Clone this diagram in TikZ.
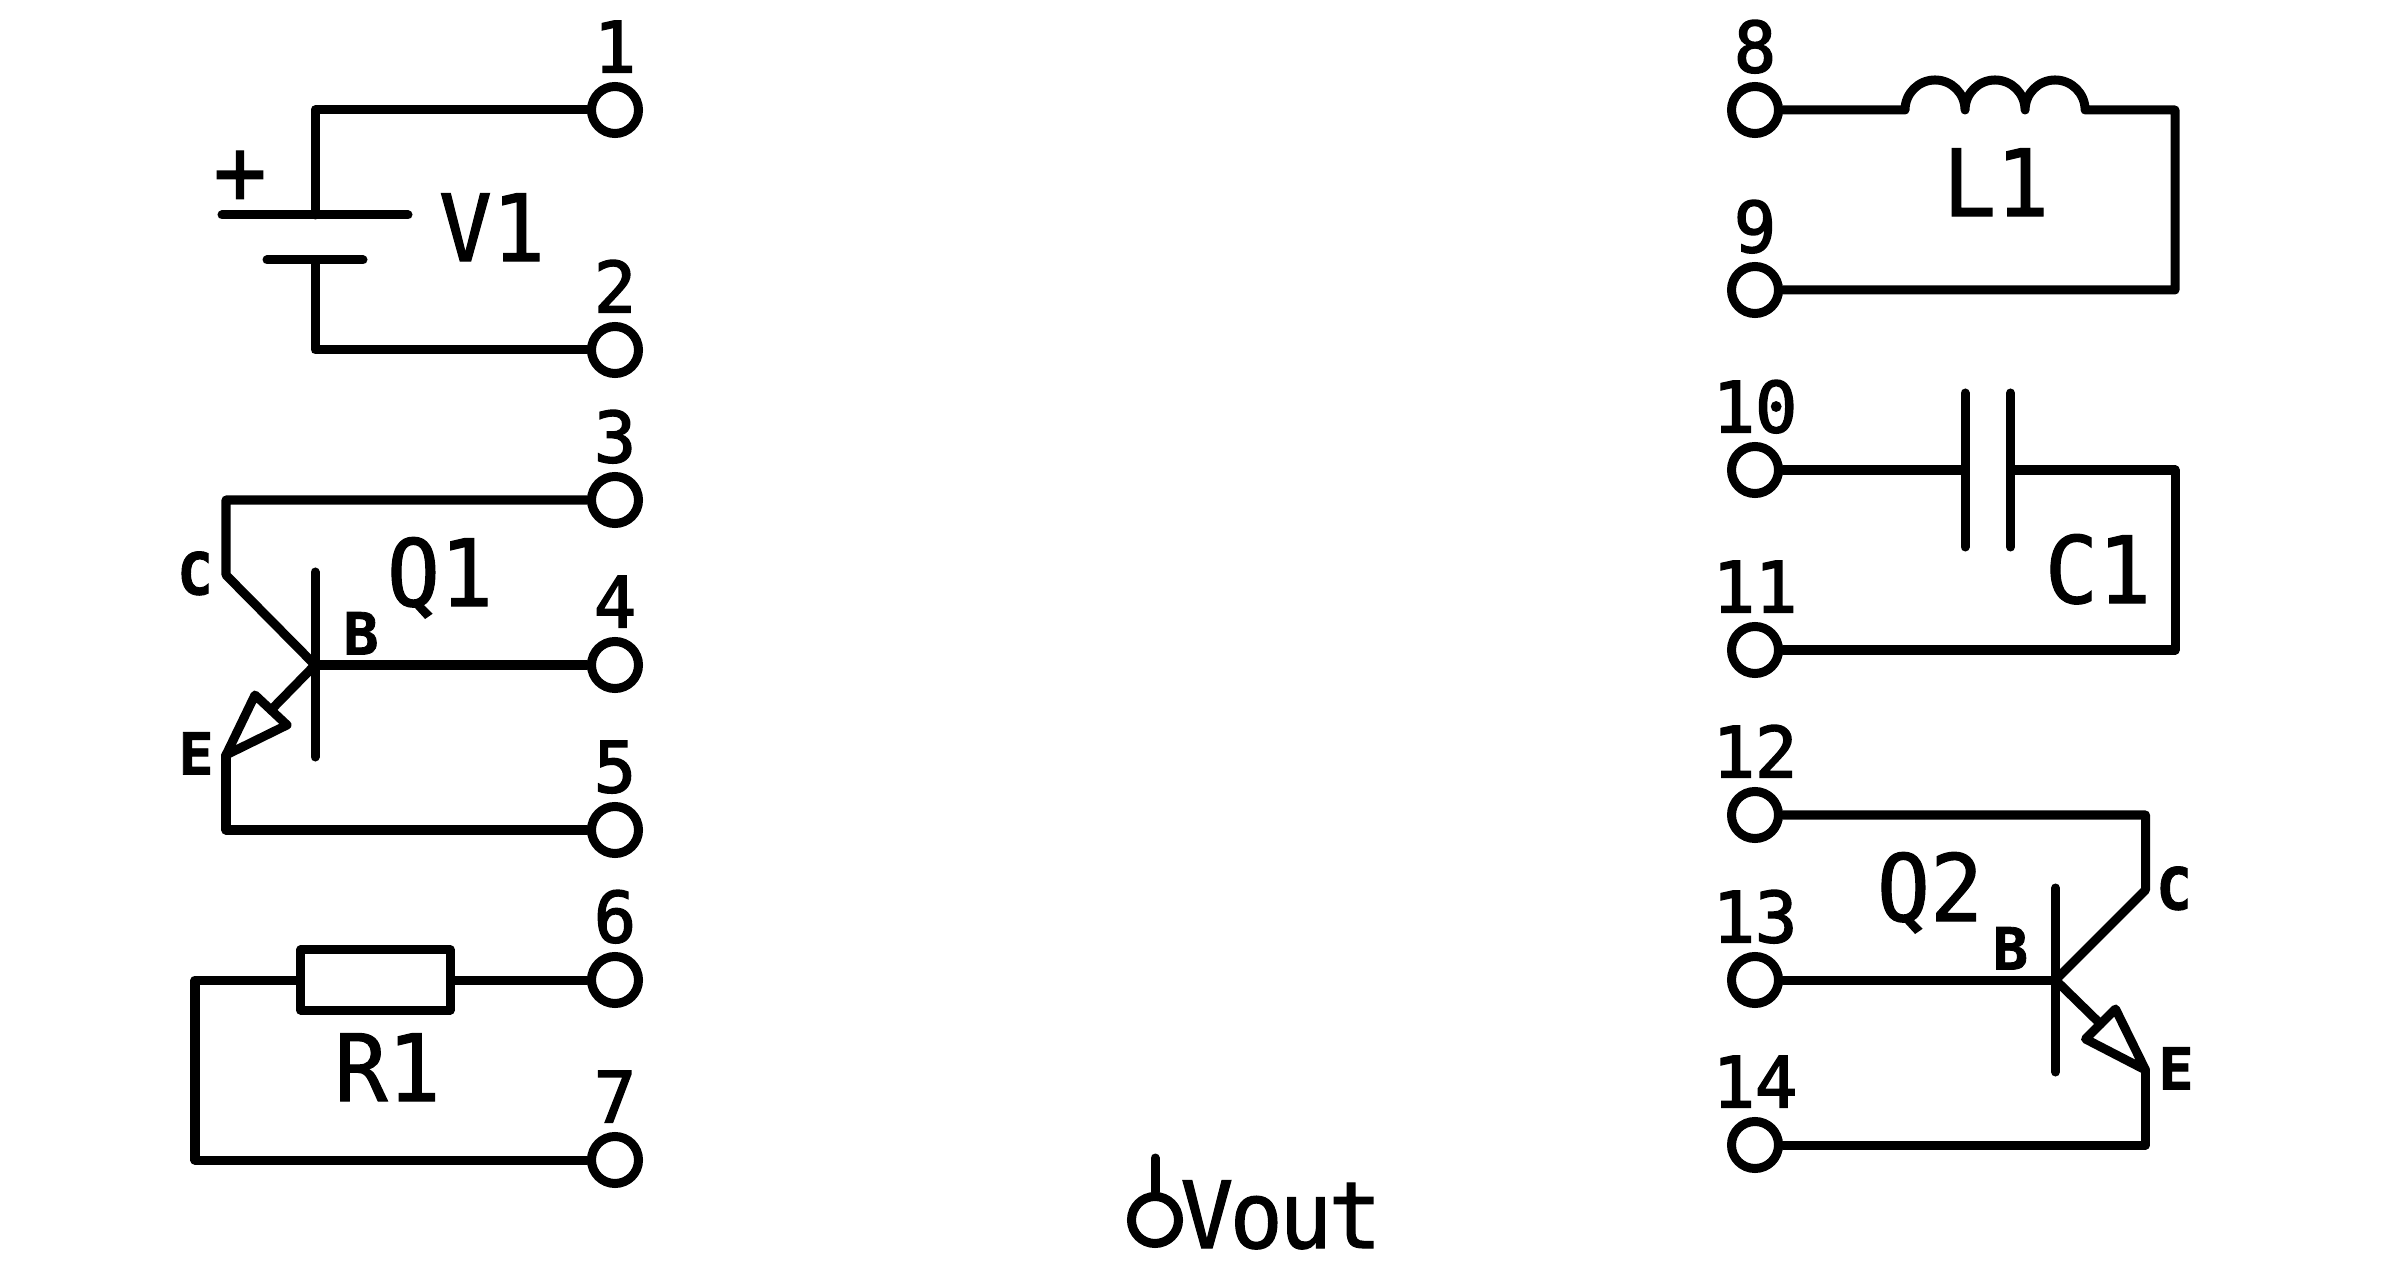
\documentclass[tikz,border=0pt]{standalone}
\usepackage{fontspec}
\setmonofont{DejaVu Sans Mono}
\newfontfamily\numfont[FakeBold=2.2]{DejaVu Sans Mono}
\newfontfamily\desfont[FakeBold=1.2, FakeStretch=0.95]{DejaVu Sans Mono}
\newfontfamily\leadfont[FakeBold=1.5]{DejaVu Sans Mono Bold}
\usepackage{tikz}
\usetikzlibrary{positioning}

\begin{document}
\begin{tikzpicture}[
    x=0.01cm, y=-0.01cm,
    wire/.style={line width=0.09cm, line cap=round, line join=round},
    pin/.style={circle, draw, line width=0.09cm, minimum size=0.47cm, inner sep=0},
    body/.style={rectangle, draw, line width=0.09cm, line join=round, minimum width=1.49cm, minimum height=0.60cm, inner sep=0},
    pinnum/.style={font=\numfont\fontsize{20}{24}\selectfont, inner sep=0, text depth=0pt},
    refdes/.style={font=\desfont\fontsize{26.4}{30}\selectfont, inner sep=0, text height=0.68cm, text depth=0pt},
    lead/.style={font=\leadfont\fontsize{16.5}{20}\selectfont, inner sep=0, text height=0.43cm, text depth=0pt},
]
\useasboundingbox (0,0) rectangle (2390,1270);

%% NODES
    % left pins
    \node[pin] (pin1) at (615,110) {};
    \node[pin] (pin2) at (615,350) {};
    \node[pin] (pin3) at (615,500) {};
    \node[pin] (pin4) at (615,665) {};
    \node[pin] (pin5) at (615,830) {};
    \node[pin] (pin6) at (615,980) {};
    \node[pin] (pin7) at (615,1160) {};

    % right pins
    \node[pin] (pin8) at (1755,110) {};
    \node[pin] (pin9) at (1755,290) {};
    \node[pin] (pin10) at (1755,470) {};
    \node[pin] (pin11) at (1755,650) {};
    \node[pin] (pin12) at (1755,815) {};
    \node[pin] (pin13) at (1755,980) {};
    \node[pin] (pin14) at (1755,1145) {};

    % output
    \node[pin] (pin_vout) at (1155,1220) {};
    \coordinate (vout_top) at (1155,1158);
    \node[refdes, font=\desfont\fontsize{26.4}{30}\selectfont\addfontfeature{LetterSpace=-4}] (vout) at (1281,1214) {Vout};

    % pin numbers
    \node[pinnum, above=0.09cm of pin1] (num1) {1};
    \node[pinnum, above=0.09cm of pin2] (num2) {2};
    \node[pinnum, above=0.09cm of pin3] (num3) {3};
    \node[pinnum, above=0.09cm of pin4] (num4) {4};
    \node[pinnum, above=0.09cm of pin5] (num5) {5};
    \node[pinnum, above=0.09cm of pin6] (num6) {6};
    \node[pinnum, above=0.09cm of pin7] (num7) {7};
    \node[pinnum, above=0.09cm of pin8] (num8) {8};
    \node[pinnum, above=0.09cm of pin9] (num9) {9};
    \node[pinnum, above=0.09cm of pin10] (num10) {10};
    \node[pinnum, above=0.09cm of pin11] (num11) {11};
    \node[pinnum, above=0.09cm of pin12] (num12) {12};
    \node[pinnum, above=0.09cm of pin13] (num13) {13};
    \node[pinnum, above=0.09cm of pin14] (num14) {14};

    % V1
    \coordinate (v1_top) at (315,110);
    \coordinate (v1_bot) at (315,350);
    \coordinate (v1_pos) at (315,215);
    \coordinate (v1_pos_l) at (222,215);
    \coordinate (v1_pos_r) at (408,215);
    \coordinate (v1_neg) at (315,260);
    \coordinate (v1_neg_l) at (267,260);
    \coordinate (v1_neg_r) at (363,260);
    \node[refdes] (v1_plus) at (240,170) {+};
    \node[refdes] (v1) at (492,227) {V1};

    % Q1
    \coordinate (q1_c_top) at (226,500);
    \coordinate (q1_c) at (226,575);
    \coordinate (q1_b) at (315,665);
    \coordinate (q1_bar_t) at (315,572);
    \coordinate (q1_bar_b) at (315,757);
    \coordinate (q1_e) at (226,755);
    \coordinate (q1_e_bot) at (226,830);
    \coordinate (q1_wing_a) at (255,695);
    \coordinate (q1_wing_b) at (287,725);
    \coordinate (q1_stem) at (271,710);
    \node[refdes] (q1) at (440,572) {Q1};
    \node[lead] (q1_lc) at (195,573) {C};
    \node[lead] (q1_lb) at (361,633) {B};
    \node[lead] (q1_le) at (196,753) {E};

    % R1
    \node[body] (r1_body) at (375.5,980) {};
    \coordinate (r1_top) at (195,980);
    \coordinate (r1_bot) at (195,1160);
    \node[refdes] (r1) at (387.5,1067) {R1};

    % L1
    \coordinate (l1_start) at (1905,110);
    \coordinate (l1_top) at (2175,110);
    \coordinate (l1_bot) at (2175,290);
    \node[refdes] (l1) at (1996,182) {L1};

    % C1
    \coordinate (c1_a) at (1965,470);
    \coordinate (c1_a_t) at (1965,393);
    \coordinate (c1_a_b) at (1965,547);
    \coordinate (c1_b) at (2010.5,470);
    \coordinate (c1_b_t) at (2010.5,393);
    \coordinate (c1_b_b) at (2010.5,547);
    \coordinate (c1_top) at (2175,470);
    \coordinate (c1_bot) at (2175,650);
    \node[refdes] (c1) at (2098,569) {C1};

    % Q2
    \coordinate (q2_c_top) at (2145.5,815);
    \coordinate (q2_c) at (2145.5,890);
    \coordinate (q2_b) at (2055.5,980);
    \coordinate (q2_bar_t) at (2055.5,888);
    \coordinate (q2_bar_b) at (2055.5,1072);
    \coordinate (q2_e) at (2145.5,1070);
    \coordinate (q2_e_bot) at (2145.5,1145);
    \coordinate (q2_wing_a) at (2115.5,1009);
    \coordinate (q2_wing_b) at (2085.5,1039);
    \coordinate (q2_stem) at (2100.5,1024);
    \node[refdes] (q2) at (1930,887) {Q2};
    \node[lead] (q2_lb) at (2010.5,948) {B};
    \node[lead] (q2_lc) at (2174,888) {C};
    \node[lead] (q2_le) at (2176,1068) {E};

%% CONNECTIONS
    % V1
    \draw[wire] (pin1) -- (v1_top) -- (v1_pos);
    \draw[wire] (v1_pos_l) -- (v1_pos_r);
    \draw[wire] (v1_neg_l) -- (v1_neg_r);
    \draw[wire] (v1_neg) -- (v1_bot) -- (pin2);

    % Q1
    \draw[wire] (pin3) -- (q1_c_top) -- (q1_c) -- (q1_b);
    \draw[wire] (q1_bar_t) -- (q1_bar_b);
    \draw[wire] (pin4) -- (q1_b);
    \draw[wire] (q1_b) -- (q1_stem);
    \draw[wire] (q1_e) -- (q1_wing_a) -- (q1_wing_b) -- cycle;
    \draw[wire] (q1_e) -- (q1_e_bot) -- (pin5);

    % R1
    \draw[wire] (pin6) -- (r1_body);
    \draw[wire] (r1_body) -- (r1_top) -- (r1_bot) -- (pin7);

    % L1
    \draw[wire] (pin8) -- (l1_start)
        arc[start angle=180, end angle=0, radius=0.30cm]
        arc[start angle=180, end angle=0, radius=0.30cm]
        arc[start angle=180, end angle=0, radius=0.30cm]
        -- (l1_top) -- (l1_bot) -- (pin9);

    % C1
    \draw[wire] (pin10) -- (c1_a);
    \draw[wire] (c1_a_t) -- (c1_a_b);
    \draw[wire] (c1_b_t) -- (c1_b_b);
    \draw[wire] (c1_b) -- (c1_top) -- (c1_bot) -- (pin11);

    % Q2
    \draw[wire] (pin12) -- (q2_c_top) -- (q2_c) -- (q2_b);
    \draw[wire] (q2_bar_t) -- (q2_bar_b);
    \draw[wire] (pin13) -- (q2_b);
    \draw[wire] (q2_b) -- (q2_stem);
    \draw[wire] (q2_e) -- (q2_wing_a) -- (q2_wing_b) -- cycle;
    \draw[wire] (q2_e) -- (q2_e_bot) -- (pin14);

    % output
    \draw[wire] (pin_vout) -- (vout_top);

\end{tikzpicture}
\end{document}
